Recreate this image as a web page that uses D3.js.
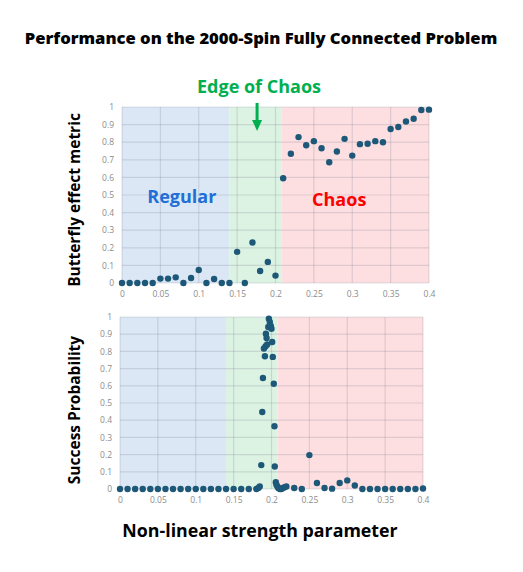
<!DOCTYPE html>
<html>
<head>
<meta charset="utf-8">
<script src="https://cdn.jsdelivr.net/npm/d3@7"></script>
<style>
  body { margin: 0; background: #fff; }
  svg { display: block; font-family: 'Open Sans', sans-serif; }
  .tick text { fill: #8c8c8c; font-size: 8.5px; font-family: 'Open Sans', sans-serif; }
</style>
</head>
<body>
<svg id="chart" width="523" height="572"></svg>
<script>
// x ticks and y ticks shared by both panels
const xTicks = [0, 0.05, 0.1, 0.15, 0.2, 0.25, 0.3, 0.35, 0.4];
const yTicks = [0, 0.1, 0.2, 0.3, 0.4, 0.5, 0.6, 0.7, 0.8, 0.9, 1];

// regime bands
const bandNames = ['Regular', 'Edge of Chaos', 'Chaos'];
const bandFrom = [0, 0.14, 0.208];
const bandTo = [0.14, 0.208, 0.4];

// top panel: butterfly effect metric
const butterflyX = [0, 0.01, 0.02, 0.03, 0.04, 0.05, 0.06, 0.07, 0.08, 0.09,
  0.1, 0.11, 0.12, 0.13, 0.14, 0.15, 0.16, 0.17, 0.18, 0.19,
  0.2, 0.21, 0.22, 0.23, 0.24, 0.25, 0.26, 0.27, 0.28, 0.29,
  0.3, 0.31, 0.32, 0.33, 0.34, 0.35, 0.36, 0.37, 0.38, 0.39, 0.4];
const butterflyY = [0, 0, 0, 0, 0, 0.025, 0.025, 0.032, 0, 0.028,
  0.074, 0, 0.023, 0, 0, 0.177, 0, 0.23, 0.068, 0.12,
  0.042, 0.595, 0.734, 0.829, 0.783, 0.806, 0.766, 0.686, 0.747, 0.819,
  0.724, 0.789, 0.791, 0.806, 0.8, 0.875, 0.886, 0.918, 0.933, 0.983, 0.985];

// bottom panel: success probability
const successX = [0, 0.01, 0.02, 0.03, 0.04, 0.05, 0.06, 0.07, 0.08, 0.09,
  0.1, 0.11, 0.12, 0.13, 0.14, 0.15, 0.16, 0.17, 0.18, 0.1826, 0.1845,
  0.1865, 0.1878, 0.1887, 0.19, 0.1913, 0.1922, 0.1926, 0.1935, 0.1943, 0.1957,
  0.1965, 0.1978, 0.1991, 0.2, 0.2009, 0.2017, 0.203, 0.2039, 0.2043, 0.2057,
  0.2065, 0.2078, 0.209, 0.211, 0.213, 0.215, 0.2174, 0.2196, 0.23, 0.24,
  0.25, 0.26, 0.27, 0.28, 0.29, 0.3, 0.31, 0.32, 0.33, 0.34,
  0.35, 0.36, 0.37, 0.38, 0.39, 0.4];
const successY = [0, 0, 0, 0, 0, 0, 0, 0, 0, 0,
  0, 0, 0, 0, 0, 0, 0, 0, 0, 0.006, 0.015,
  0.139, 0.448, 0.645, 0.817, 0.772, 0.83, 0.903, 0.878, 0.84, 0.942,
  0.99, 0.971, 0.948, 0.932, 0.855, 0.768, 0.612, 0.365, 0.131, 0.039,
  0.025, 0.015, 0.006, 0, 0, 0.006, 0.01, 0.015, 0.006, 0,
  0.197, 0.035, 0.006, 0.002, 0.035, 0.05, 0.02, 0, 0, 0,
  0, 0, 0, 0, 0, 0.003];

const svg = d3.select('#chart');
const bandColors = ['#dce7f5', '#dcf2e3', '#fddfe1'];
const dotColor = '#1d5878';

function drawPanel(xs, ys, box, label, labelY) {
  const x = d3.scaleLinear().domain([0, 0.4]).range([box.left, box.right]);
  const y = d3.scaleLinear().domain([0, 1]).range([box.bottom, box.top]);

  const g = svg.append('g');

  // bands
  g.selectAll('rect.band')
    .data(bandFrom)
    .enter()
    .append('rect')
    .classed('band', true)
    .attr('x', (d) => x(d))
    .attr('y', y(1))
    .attr('width', (d, i) => x(bandTo[i]) - x(d))
    .attr('height', y(0) - y(1))
    .attr('fill', (d, i) => bandColors[i]);

  // grid, drawn over the bands with low opacity so it takes their tint
  g.selectAll('line.vgrid')
    .data(xTicks)
    .enter()
    .append('line')
    .attr('x1', (d) => x(d))
    .attr('x2', (d) => x(d))
    .attr('y1', y(0))
    .attr('y2', y(1))
    .attr('stroke', '#6a7080')
    .attr('stroke-opacity', 0.2)
    .attr('stroke-width', 1.2);

  g.selectAll('line.hgrid')
    .data(yTicks)
    .enter()
    .append('line')
    .attr('x1', x(0))
    .attr('x2', x(0.4))
    .attr('y1', (d) => y(d))
    .attr('y2', (d) => y(d))
    .attr('stroke', '#6a7080')
    .attr('stroke-opacity', 0.2)
    .attr('stroke-width', 1.2);

  // axes, labels only
  g.append('g')
    .attr('transform', `translate(0, ${box.bottom})`)
    .call(d3.axisBottom(x).tickValues(xTicks).tickFormat(d3.format('~g')).tickSize(0).tickPadding(8))
    .call((a) => a.select('.domain').remove());

  g.append('g')
    .attr('transform', `translate(${box.left}, 0)`)
    .call(d3.axisLeft(y).tickValues(yTicks).tickFormat(d3.format('~g')).tickSize(0).tickPadding(8))
    .call((a) => a.select('.domain').remove());

  // dots
  g.selectAll('circle.dot')
    .data(xs)
    .enter()
    .append('circle')
    .attr('cx', (d) => x(d))
    .attr('cy', (d, i) => y(ys[i]))
    .attr('r', 3.2)
    .attr('fill', dotColor);

  // y title
  g.append('text')
    .text(label)
    .attr('text-anchor', 'middle')
    .attr('font-weight', 'bold')
    .attr('font-size', '15.5px')
    .attr('fill', '#000')
    .attr('transform', `translate(80, ${labelY}) rotate(-90)`);

  return { x, y };
}

const topPanel = drawPanel(butterflyX, butterflyY, { left: 122, right: 429, top: 107, bottom: 283 }, 'Butterfly effect metric', 200);
drawPanel(successX, successY, { left: 120, right: 423, top: 317, bottom: 489 }, 'Success Probability', 410);

// title
svg.append('text')
  .text('Performance on the 2000-Spin Fully Connected Problem')
  .attr('x', 261)
  .attr('y', 44)
  .attr('text-anchor', 'middle')
  .attr('font-weight', 800)
  .attr('font-size', '16.6px')
  .attr('fill', '#000');

// x title
svg.append('text')
  .text('Non-linear strength parameter')
  .attr('x', 260)
  .attr('y', 537)
  .attr('text-anchor', 'middle')
  .attr('font-weight', 'bold')
  .attr('font-size', '17.8px')
  .attr('fill', '#000');

// annotations in the top panel
svg.append('text')
  .text(bandNames[0])
  .attr('x', topPanel.x(0.078))
  .attr('y', topPanel.y(0.455))
  .attr('text-anchor', 'middle')
  .attr('font-weight', 'bold')
  .attr('font-size', '18px')
  .attr('fill', '#1f6fd6');

svg.append('text')
  .text(bandNames[2])
  .attr('x', topPanel.x(0.283))
  .attr('y', topPanel.y(0.435))
  .attr('text-anchor', 'middle')
  .attr('font-weight', 'bold')
  .attr('font-size', '18px')
  .attr('fill', '#ff0000');

svg.append('text')
  .text(bandNames[1])
  .attr('x', 259)
  .attr('y', 93)
  .attr('text-anchor', 'middle')
  .attr('font-weight', 'bold')
  .attr('font-size', '18px')
  .attr('fill', '#00b050');

// arrow
const ax = topPanel.x(0.176);
svg.append('line')
  .attr('x1', ax)
  .attr('x2', ax)
  .attr('y1', 103)
  .attr('y2', 122)
  .attr('stroke', '#00b050')
  .attr('stroke-width', 3);
svg.append('path')
  .attr('d', `M${ax - 5},120 L${ax + 5},120 L${ax},131 Z`)
  .attr('fill', '#00b050');
</script>
</body>
</html>
